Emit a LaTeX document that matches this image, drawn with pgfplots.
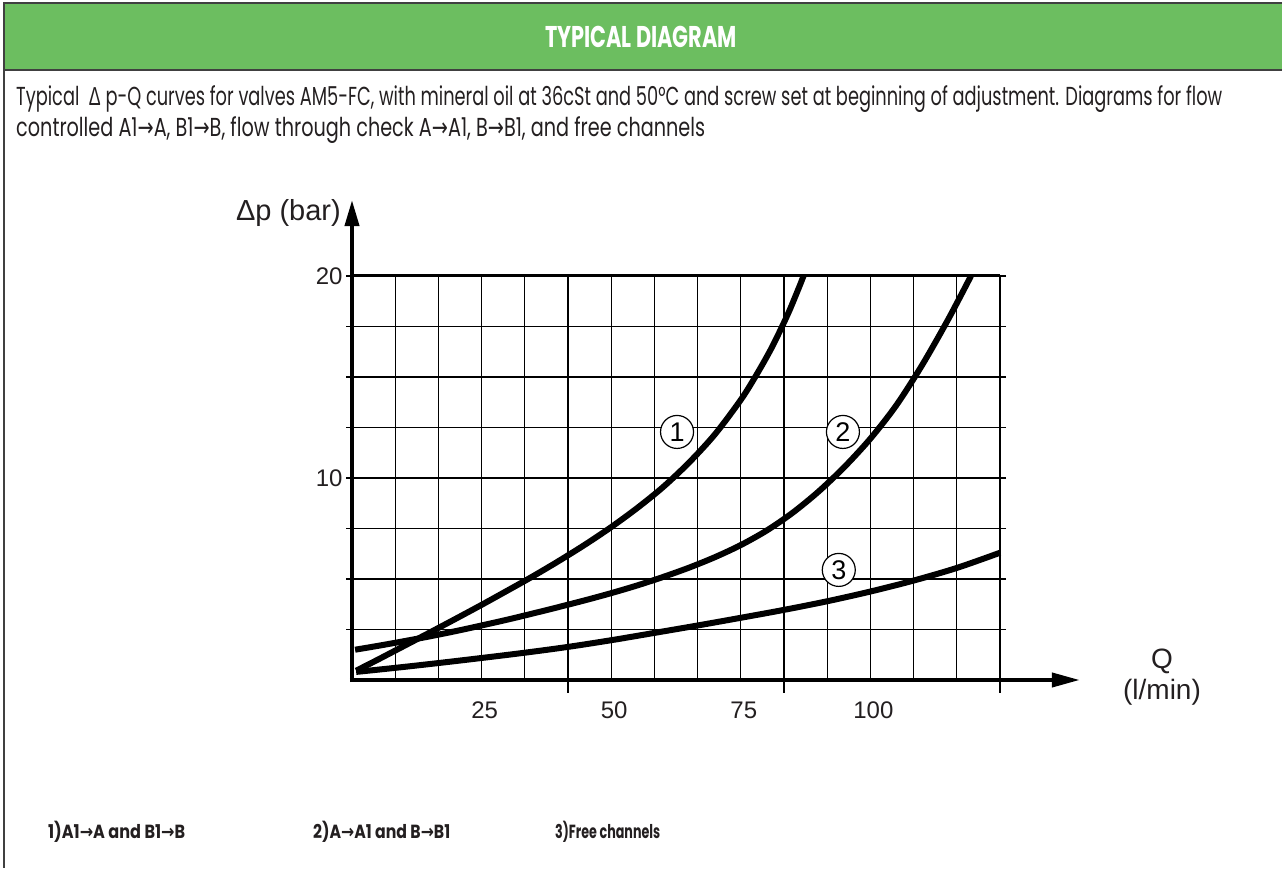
\documentclass[border=0pt]{standalone}
\usepackage{fontspec}
\setmainfont{Liberation Sans}
\newfontfamily\pop{Poppins}
\newfontfamily\lsans{Liberation Sans}
\newfontfamily\dvs{DejaVu Sans}
\usepackage{pgfplots}
\usepackage{pgfplotstable}
\pgfplotsset{compat=1.18}
\usetikzlibrary{arrows.meta}
\definecolor{hdr}{RGB}{108,190,96}
\definecolor{ink}{RGB}{35,31,32}
\newcommand\fitw[2]{\setbox0\hbox{#2}\pgfmathsetmacro\fr{#1/\the\wd0}\scalebox{\fr}[1]{\box0}}

\pgfplotstableread{
Q p
0.8 0.46
5 1.01
10 1.68
15 2.35
20 3.03
25 3.72
30 4.43
35 5.15
40 5.91
45 6.71
50 7.57
55 8.51
60 9.55
65 10.76
70 12.16
75 13.87
78 15.1
81 16.47
84 18.07
86 19.29
87.1 20.0
}\curveA

\pgfplotstableread{
Q p
0.6 1.5
5 1.69
10 1.92
15 2.16
20 2.42
25 2.7
30 2.99
35 3.3
40 3.62
45 3.95
50 4.3
55 4.68
60 5.1
65 5.56
70 6.08
75 6.68
80 7.4
85 8.28
90 9.33
95 10.55
100 11.95
105 13.6
110 15.6
115 17.85
119.4 20
}\curveB

\pgfplotstableread{
Q p
0.8 0.4
8.3 0.6
16.7 0.84
25 1.09
33.3 1.35
41.7 1.64
50 1.97
58.3 2.33
66.7 2.7
75 3.08
83.3 3.47
91.7 3.9
100 4.38
108.3 4.92
116.7 5.55
125 6.3
}\curveC

\begin{document}
\begin{tikzpicture}[x=1pt,y=1pt]
\useasboundingbox (0,0) rectangle (1282,868);
% header
\fill[hdr] (4,798) rectangle (1282,865);
\draw[line width=1.5pt, black!75] (1282,865) -- (4,865) -- (4,0);
\draw[line width=1.5pt, black!75] (4,798) -- (1282,798);
\node[white, inner sep=0] at (641,831) {\pop\bfseries\fontsize{30}{34}\selectfont\fitw{192}{TYPICAL DIAGRAM}};
% description
\node[anchor=base west, text=ink, inner sep=0] at (16,762) {\pop\fontsize{26}{30}\selectfont\fitw{1206}{Typical \ {\lsans Δ} p-Q curves for valves AM5-FC, with mineral oil at 36cSt and 50°C and screw set at beginning of adjustment. Diagrams for flow}};
\node[anchor=base west, text=ink, inner sep=0] at (16,731) {\pop\fontsize{26}{30}\selectfont\fitw{689}{controlled A1{\dvs→}A, B1{\dvs→}B, flow through check A{\dvs→}A1, B{\dvs→}B1, and free channels}};
% legend
\node[anchor=base west, text=ink, inner sep=0] at (48,30) {\pop\bfseries\fontsize{19}{22}\selectfont\fitw{137}{1)A1{\dvs\bfseries→}A and B1{\dvs\bfseries→}B}};
\node[anchor=base west, text=ink, inner sep=0] at (313,30) {\pop\bfseries\fontsize{19}{22}\selectfont\fitw{137}{2)A{\dvs\bfseries→}A1 and B{\dvs\bfseries→}B1}};
\node[anchor=base west, text=ink, inner sep=0] at (555,30) {\pop\bfseries\fontsize{19}{22}\selectfont\fitw{105}{3)Free channels}};

\begin{axis}[at={(352pt,188pt)}, anchor=south west, scale only axis,
  width=648pt, height=404pt,
  xmin=0, xmax=125, ymin=0, ymax=20, clip=false,
  axis line style={line width=1.5pt, black},
  xtick={25,50,75,100},
  minor xtick={8.333,16.667,33.333,41.667,58.333,66.667,83.333,91.667,108.333,116.667},
  ytick={2.5,5,7.5,10,12.5,15,17.5,20},
  yticklabels={,,,10,,,,20},
  grid=both,
  major grid style={line width=1.2pt, black},
  minor grid style={line width=1.2pt, black},
  tick align=outside, major tick length=6pt, minor tick length=0pt,
  xtick style={draw=none}, ytick style={line width=1.5pt, black},
  /pgf/number format/assume math mode=true,
  ticklabel style={font=\lsans\fontsize{24}{27}\selectfont, text=ink},
  xticklabel style={yshift=-12pt, xshift=3pt},
]
\draw[line width=2.5pt] (axis cs:0,5) -- (axis cs:125,5);
\draw[line width=2.5pt] (axis cs:0,10) -- (axis cs:125,10);
\draw[line width=2.5pt] (axis cs:0,15) -- (axis cs:125,15);
\draw[line width=3pt] (axis cs:0,20) -- (axis cs:125,20);
\draw[line width=2.5pt] (axis cs:41.667,-0.64) -- (axis cs:41.667,20);
\draw[line width=2.5pt] (axis cs:83.333,-0.64) -- (axis cs:83.333,20);
\draw[line width=2pt] (axis cs:125,-0.64) -- (axis cs:125,20);
\draw[line width=4pt, -{Triangle[length=26pt,width=14pt]}] (axis cs:0,-0.1) -- (axis cs:0,23.76);
\draw[line width=4pt, -{Triangle[length=28pt,width=14pt]}] (axis cs:-0.4,0) -- (axis cs:140.4,0);
\addplot[line width=6pt, black, smooth, no marks] table {\curveA};
\addplot[line width=6pt, black, smooth, no marks] table {\curveB};
\addplot[line width=6pt, black, smooth, no marks] table {\curveC};
\node[draw, circle, fill=white, line width=1.2pt, inner sep=0pt, minimum size=33pt, font=\lsans\fontsize{27}{30}\selectfont] at (axis cs:62.7,12.28) {1};
\node[draw, circle, fill=white, line width=1.2pt, inner sep=0pt, minimum size=33pt, font=\lsans\fontsize{27}{30}\selectfont] at (axis cs:94.7,12.28) {2};
\node[draw, circle, fill=white, line width=1.2pt, inner sep=0pt, minimum size=33pt, font=\lsans\fontsize{27}{30}\selectfont] at (axis cs:93.9,5.45) {3};
\end{axis}
\node[anchor=east, text=ink, inner sep=0, font=\lsans\fontsize{29}{32}\selectfont] at (341,655) {Δp (bar)};
\node[text=ink, inner sep=0, font=\lsans\fontsize{28}{32}\selectfont] at (1162,207) {Q};
\node[text=ink, inner sep=0, font=\lsans\fontsize{28}{32}\selectfont] at (1162,176) {(l/min)};
\end{tikzpicture}
\end{document}
